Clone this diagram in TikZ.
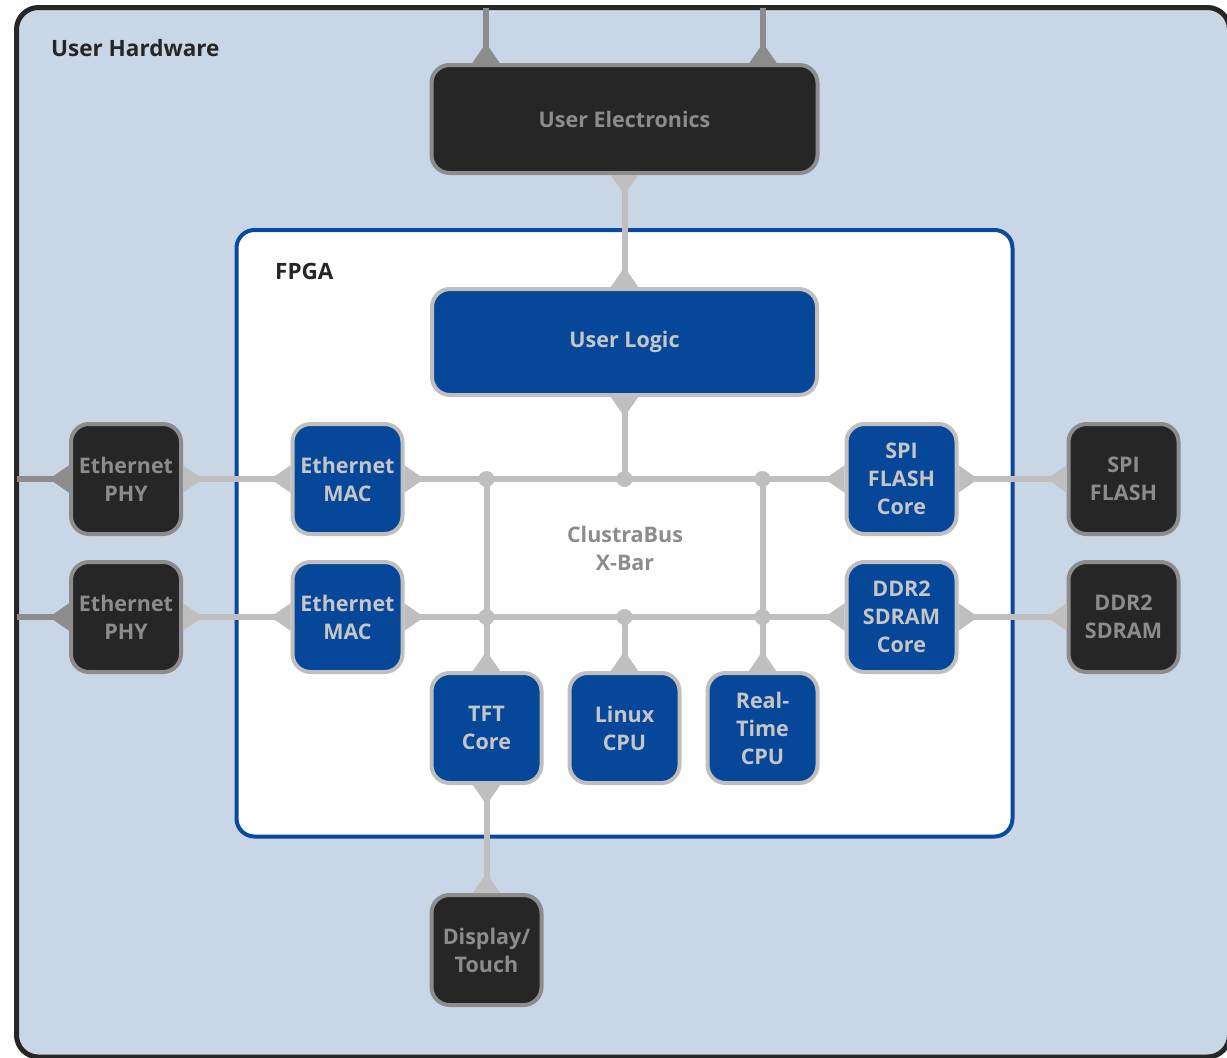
\documentclass[tikz,border=0pt]{standalone}
\usepackage{fontspec}
\setmainfont{Open Sans}
\usetikzlibrary{arrows.meta,calc}
\definecolor{hwbg}{HTML}{C9D6E5}
\definecolor{darkfill}{HTML}{262626}
\definecolor{midgray}{HTML}{8C8C8C}
\definecolor{lightgray}{HTML}{BFBFBF}
\definecolor{bluefill}{HTML}{07479A}
\definecolor{fpgablue}{HTML}{0A4A9C}
\definecolor{bluetext}{HTML}{C6C6C6}
\begin{document}
\begin{tikzpicture}[x=1pt,y=-1pt,
  boxtext/.style={font=\fontsize{21.5}{28}\selectfont\bfseries, align=center, inner sep=0pt},
  darkbox/.style={boxtext, rectangle, rounded corners=18pt, fill=darkfill, draw=midgray, line width=4pt, text=midgray},
  bluebox/.style={boxtext, rectangle, rounded corners=18pt, fill=bluefill, draw=lightgray, line width=4pt, text=bluetext},
  small/.style={minimum width=110pt, minimum height=110pt},
  flare/.tip={Triangle[reversed, length=20pt, width=26pt]},
  bus/.style={line width=6pt, draw=lightgray},
  extbus/.style={line width=6pt, draw=midgray},
  title/.style={anchor=west, font=\fontsize{22.5}{26}\selectfont\bfseries, text=darkfill, inner sep=0pt}
]
\useasboundingbox (0,0) rectangle (1227,1058);
\clip (0,0) rectangle (1227,1058);
% outer user hardware frame
\draw[fill=hwbg, draw=darkfill, line width=5pt, rounded corners=22pt] (16.5,7.5) rectangle (1229.5,1057);
% FPGA frame
\draw[fill=white, draw=fpgablue, line width=4pt, rounded corners=18pt] (236.5,230) rectangle (1012.5,836.5);

\node[title] (hwlabel) at (51,48) {User Hardware};
\node[title] (fpgalabel) at (275,271) {FPGA};
\node[boxtext, text=midgray] (xbar) at (625,548) {ClustraBus\\X-Bar};

\node[darkbox, minimum width=386pt, minimum height=108pt] (ue) at (624.5,119) {User Electronics};
\node[bluebox, minimum width=385pt, minimum height=106pt] (ul) at (624.5,342) {User Logic};
\node[darkbox, small] (phy1) at (126,479) {Ethernet\\PHY};
\node[darkbox, small] (phy2) at (126,617) {Ethernet\\PHY};
\node[bluebox, small] (mac1) at (347.5,479) {Ethernet\\MAC};
\node[bluebox, small] (mac2) at (347.5,617) {Ethernet\\MAC};
\node[bluebox, small] (spic) at (901.5,479) {SPI\\FLASH\\Core};
\node[bluebox, small] (ddrc) at (901.5,617) {DDR2\\SDRAM\\Core};
\node[darkbox, small] (spi) at (1123.5,479) {SPI\\FLASH};
\node[darkbox, small] (ddr) at (1123.5,617) {DDR2\\SDRAM};
\node[bluebox, small] (tft) at (486.5,728) {TFT\\Core};
\node[bluebox, small] (cpu) at (624.5,728) {Linux\\CPU};
\node[bluebox, small] (rt) at (762.5,728) {Real-\\Time\\CPU};
\node[darkbox, small] (disp) at (486.5,950) {Display/\\Touch};

\coordinate (top1) at (486,7.5);
\coordinate (top2) at (763,7.5);
\coordinate (left1) at (16.5,479);
\coordinate (left2) at (16.5,617);
\coordinate (c1top) at (tft.north |- mac1.east);
\coordinate (c2top) at (cpu.north |- mac1.east);
\coordinate (c3top) at (rt.north |- mac1.east);
\coordinate (c1bot) at (tft.north |- mac2.east);
\coordinate (c2bot) at (cpu.north |- mac2.east);
\coordinate (c3bot) at (rt.north |- mac2.east);

\draw[extbus, -flare] (top1) -- (top1 |- ue.north);
\draw[extbus, -flare] (top2) -- (top2 |- ue.north);
\draw[extbus, -flare] (left1) -- (phy1.west);
\draw[extbus, -flare] (left2) -- (phy2.west);
\draw[bus, flare-flare] (ue.south) -- (ul.north);
\draw[bus, flare-flare] (phy1.east) -- (mac1.west);
\draw[bus, flare-flare] (phy2.east) -- (mac2.west);
\draw[bus, flare-flare] (mac1.east) -- (spic.west);
\draw[bus, flare-flare] (mac2.east) -- (ddrc.west);
\draw[bus, flare-flare] (spic.east) -- (spi.west);
\draw[bus, flare-flare] (ddrc.east) -- (ddr.west);
\draw[bus, flare-] (ul.south) -- (c2top);
\draw[bus, -flare] (c1top) -- (tft.north);
\draw[bus, -flare] (c2bot) -- (cpu.north);
\draw[bus, -flare] (c3top) -- (rt.north);
\draw[bus, flare-flare] (tft.south) -- (disp.north);
\foreach \c in {c1top,c2top,c3top,c1bot,c2bot,c3bot}
  \fill[lightgray] (\c) circle[radius=8pt];
\end{tikzpicture}
\end{document}
